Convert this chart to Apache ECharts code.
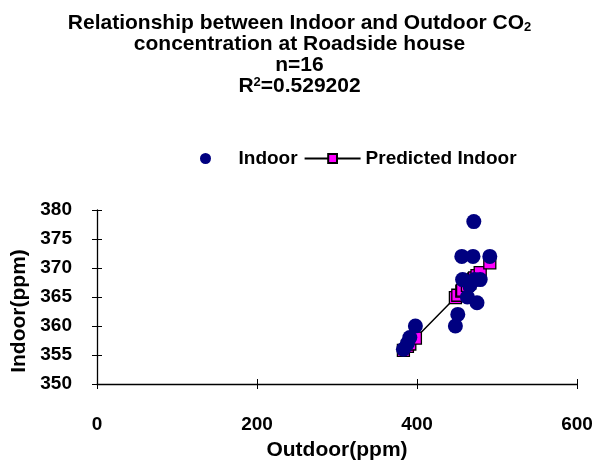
<!DOCTYPE html>
<html><head><meta charset="utf-8">
<script src="https://cdn.jsdelivr.net/npm/echarts@6/dist/echarts.min.js"></script>
<style>html,body{margin:0;padding:0;background:#fff}#c{width:599px;height:464px}</style>
</head><body><div id="c"></div>
<script>
const outdoor = [471, 456, 470, 491, 457, 472, 479, 463, 475, 451, 448, 398, 391, 388, 383, 466];
const indoor  = [378, 372, 372, 372, 368, 368, 368, 365, 364, 362, 360, 360, 358, 357, 356, 367];
const predOutdoor = [383, 388, 391, 398, 448, 451, 456, 457, 463, 466, 470, 471, 472, 475, 479, 491];
const predIndoor  = [355.8, 356.5, 356.9, 357.9, 364.9, 365.3, 366.0, 366.2, 367.0, 367.4, 368.0, 368.1, 368.3, 368.7, 369.2, 370.9];
const xTicks = [0, 200, 400, 600];
const yTicks = [350, 355, 360, 365, 370, 375, 380];

const F = '"Liberation Sans", Arial, sans-serif';
const chart = echarts.init(document.getElementById('c'));
chart.setOption({
  animation:false,
  title:{
    text:'Relationship between Indoor and Outdoor CO{sub|2}\nconcentration at Roadside house\nn=16\nR{sup|2}=0.529202',
    left:'center', top:8,
    textStyle:{fontFamily:F, fontWeight:'bold', fontSize:21, color:'#000', lineHeight:21,
      rich:{sub:{fontFamily:F, fontWeight:'bold', fontSize:13, verticalAlign:'bottom', padding:[9,0,0,0], lineHeight:21},
            sup:{fontFamily:F, fontWeight:'bold', fontSize:13, verticalAlign:'top', padding:[0,0,7,0], lineHeight:21}}}
  },
  legend:{
    top:144, left:195, itemGap:6, itemWidth:56, itemHeight:11,
    textStyle:{fontFamily:F, fontWeight:'bold', fontSize:19, color:'#000'},
    data:[{name:'Indoor', icon:'circle', itemStyle:{color:'#000080'}}, {name:'Predicted Indoor'}]
  },
  grid:{left:97, right:22, top:210, bottom:80},
  xAxis:[{
    type:'value', min:0, max:600, interval:200, position:'bottom',
    name:'Outdoor(ppm)', nameLocation:'middle', nameGap:56,
    nameTextStyle:{fontFamily:F, fontWeight:'bold', fontSize:21, color:'#000'},
    axisLine:{show:true, lineStyle:{color:'#000', width:1.3}},
    axisTick:{show:true, length:5, lineStyle:{color:'#000'}},
    axisLabel:{fontFamily:F, fontWeight:'bold', fontSize:19, color:'#000', margin:31,
      formatter:v=>xTicks.includes(v)?String(v):''},
    splitLine:{show:false}
  },{
    type:'value', min:0, max:600, interval:200, position:'bottom',
    axisLine:{show:false}, axisTick:{show:true, inside:true, length:5, lineStyle:{color:'#000'}},
    axisLabel:{show:false}, splitLine:{show:false}
  }],
  yAxis:[{
    type:'value', min:350, max:380, interval:5, position:'left',
    name:'Indoor(ppm)', nameLocation:'middle', nameGap:63,
    nameTextStyle:{fontFamily:F, fontWeight:'bold', fontSize:21, color:'#000', padding:[0,28,0,0]},
    axisLine:{show:true, lineStyle:{color:'#000', width:1.3}},
    axisTick:{show:true, length:5, lineStyle:{color:'#000'}},
    axisLabel:{fontFamily:F, fontWeight:'bold', fontSize:19, color:'#000', margin:25,
      formatter:v=>yTicks.includes(v)?String(v):''},
    splitLine:{show:false}
  },{
    type:'value', min:350, max:380, interval:5, position:'left',
    axisLine:{show:false}, axisTick:{show:true, inside:true, length:5, lineStyle:{color:'#000'}},
    axisLabel:{show:false}, splitLine:{show:false}
  }],
  series:[{
    name:'Predicted Indoor', type:'line', symbol:'rect', symbolSize:12, showAllSymbol:true, z:2,
    lineStyle:{color:'#000', width:1.5},
    itemStyle:{color:'#ff00ff', borderColor:'#000', borderWidth:1.3},
    data:predOutdoor.map((x,i)=>[x, predIndoor[i]])
  },{
    name:'Indoor', type:'scatter', symbol:'circle', symbolSize:15, z:3,
    itemStyle:{color:'#000080', opacity:1},
    data:outdoor.map((x,i)=>[x, indoor[i]])
  }]
});
</script></body></html>
